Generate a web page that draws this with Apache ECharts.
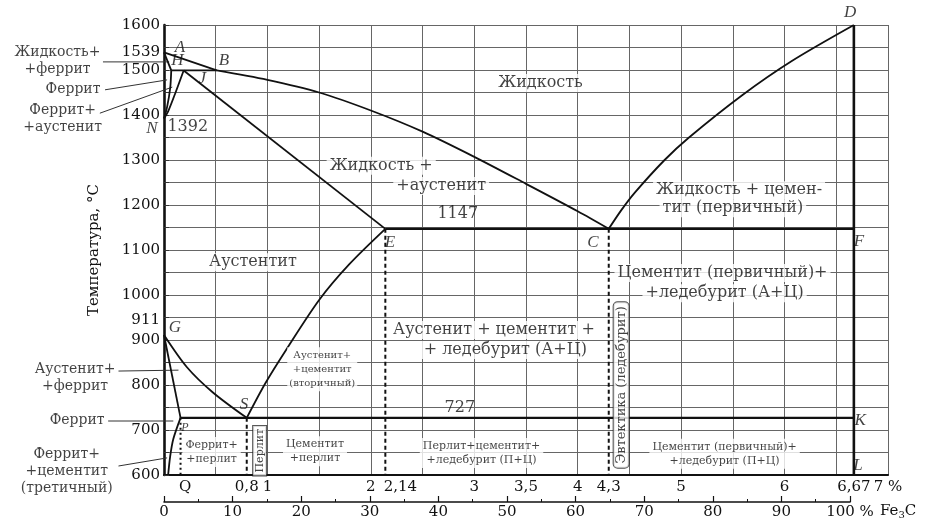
<!DOCTYPE html>
<html><head><meta charset="utf-8">
<script src="https://cdn.jsdelivr.net/npm/echarts@6/dist/echarts.min.js"></script>
<style>html,body{margin:0;padding:0;background:#fff}#c{width:926px;height:521px}</style>
</head><body><div id="c"></div><script>
const SERIF = 'DejaVu Serif';
const ITAL = 'Liberation Serif';
// phase boundaries: [% C, °C]
const lineAB  = [[0,1539],[0.51,1499]];
const lineBC  = [[0.51,1499],[1.0,1478],[1.5,1450],[2.0,1410],[2.5,1363],[3.0,1307],[3.5,1247],[4.0,1186],[4.3,1147]];
const lineCD  = [[4.3,1147],[4.42,1188],[4.55,1227],[4.84,1300],[5.07,1349],[5.59,1444],[6.07,1520],[6.67,1600]];
const lineAH  = [[0,1539],[0.07,1499]];
const lineHN  = [[0.07,1499],[0.06,1460],[0.03,1418],[0,1392]];
const lineJN  = [[0.19,1499],[0.11,1449],[0.04,1408],[0,1392]];
const lineHJB = [[0.07,1499],[0.51,1499]];
const lineJE  = [[0.19,1499],[2.14,1147]];
const lineECF = [[2.14,1147],[6.67,1147]];
const lineES  = [[2.14,1147],[1.79,1068],[1.5,989],[1.18,878],[0.98,804],[0.8,727]];
const lineGS  = [[0,911],[0.22,840],[0.47,784],[0.8,727]];
const lineGP  = [[0,911],[0.16,727]];
const linePQ  = [[0.16,727],[0.09,680],[0.06,642],[0.04,600]];
const linePSK = [[0.16,727],[6.67,727]];
const lineDL  = [[6.67,1600],[6.67,600]];
const dropP = [[0.16,727],[0.16,600]];
const dropS = [[0.8,727],[0.8,600]];
const dropE = [[2.14,1147],[2.14,600]];
const dropC = [[4.3,1147],[4.3,600]];
// tick labels
const yTicks = [600,700,800,900,911,1000,1100,1200,1300,1400,1500,1539,1600];
const yMinorTicks = [600,650,700,750,800,850,900,950,1000,1050,1100,1150,1200,1250,1300,1350,1400,1450,1500,1550,1600];
const xTicks = [0.04,0.8,1,2,2.14,3,3.5,4,4.3,5,6,6.67,7];
const xTickText = ['Q','0,8','1','2','2,14','3','3,5','4','4,3','5','6','6,67','7 %'];
const fe3cTicks = [0,10,20,30,40,50,60,70,80,90,100];
// leader lines from the outer labels
const leaders = [
  [[-0.59,1518],[0.05,1518]],
  [[-0.57,1456],[0.03,1478]],
  [[-0.62,1404],[0.08,1462]],
  [[-0.44,831],[0.14,833]],
  [[-0.54,720],[0.09,720]],
  [[-0.44,620],[0.03,638]]
];
// text annotations: text, x(%C), T(°C), kind
const regionText = [
  ['Жидкость',3.64,1471,'big'],
  ['Жидкость +',2.10,1287,'big'],
  ['+аустенит',2.68,1242,'big'],
  ['Аустентит',0.86,1073,'big'],
  ['Жидкость + цемен-',5.56,1233,'big'],
  ['тит (первичный)',5.50,1193,'big'],
  ['Цементит (первичный)+',5.40,1049,'big'],
  ['+ледебурит (А+Ц)',5.42,1004,'big'],
  ['Аустенит + цементит +',3.19,922,'big'],
  ['+ ледебурит (А+Ц)',3.30,878,'big'],
  ['1147',2.84,1180,'num'],
  ['727',2.86,749,'num'],
  ['1392',0.23,1373,'num'],
  ['Аустенит+\n+цементит\n(вторичный)',1.53,835,'tiny'],
  ['Цементит\n+перлит',1.46,653,'small'],
  ['Феррит+\n+перлит',0.46,651,'small'],
  ['Перлит+цементит+\n+ледебурит (П+Ц)',3.07,649,'small'],
  ['Цементит (первичный)+\n+ледебурит (П+Ц)',5.42,647,'small'],
  ['Перлит',0.925,654,'vbox1'],
  ['Эвтектика (ледебурит)',4.42,800,'vbox2'],
  ['Жидкость+\n+феррит',-1.03,1520,'side'],
  ['Феррит',-0.88,1456,'side'],
  ['Феррит+\n+аустенит',-0.98,1391,'side'],
  ['Аустенит+\n+феррит',-0.86,816,'side'],
  ['Феррит',-0.84,722,'side'],
  ['Феррит+\n+цементит\n(третичный)',-0.94,607,'side']
];
const pointText = [
  ['A',0.155,1549],['H',0.13,1520],['J',0.37,1482],['B',0.58,1522],['N',-0.116,1371],
  ['G',0.106,927],['S',0.773,756],['P',0.203,704],['E',2.185,1116],['C',4.148,1116],
  ['D',6.633,1627],['F',6.72,1118],['K',6.73,722],['L',6.71,620]
];

const INK = '#111';
const styles = {
  big:  {fontFamily:SERIF, fontSize:16, color:INK, backgroundColor:'#fff', padding:[1,3]},
  num:  {fontFamily:SERIF, fontSize:16, color:INK},
  small:{fontFamily:SERIF, fontSize:11, lineHeight:14, color:INK, backgroundColor:'#fff', padding:[1,3]},
  tiny: {fontFamily:SERIF, fontSize:10, lineHeight:14, color:INK, backgroundColor:'#fff', padding:[1,2]},
  vbox1:{fontFamily:SERIF, fontSize:11, color:INK, backgroundColor:'#fff', borderColor:'#222', borderWidth:1, padding:[1,3], rotate:90},
  vbox2:{fontFamily:SERIF, fontSize:13, color:INK, backgroundColor:'#fff', borderColor:'#222', borderWidth:1, borderRadius:4, padding:[1,4], rotate:90},
  side: {fontFamily:SERIF, fontSize:14, lineHeight:17, color:INK}
};

function boundary(data, extra) {
  return Object.assign({type:'line', data, symbol:'none', silent:true, z:5,
    lineStyle:{color:'#111', width:1.8}}, extra || {});
}
const curve = {smooth:0.3};
const dashed = {lineStyle:{color:'#111', width:2, type:[4,3]}};

const series = [
  boundary(lineAB), boundary(lineBC, curve), boundary(lineCD, curve),
  boundary(lineAH), boundary(lineHN, curve), boundary(lineJN, curve),
  boundary(lineHJB), boundary(lineJE), boundary(lineECF, {lineStyle:{color:'#111', width:2.2}}),
  boundary(lineES, curve), boundary(lineGS, curve), boundary(lineGP), boundary(linePQ, curve),
  boundary(linePSK, {lineStyle:{color:'#111', width:2.2}}),
  boundary(lineDL, {lineStyle:{color:'#111', width:2.6}}),
  boundary(dropP, {lineStyle:{color:'#111', width:2, type:[2,3]}}),
  boundary(dropS, dashed), boundary(dropE, dashed), boundary(dropC, dashed)
];
series.push({
  type:'scatter', symbolSize:1, itemStyle:{color:'rgba(0,0,0,0)'}, clip:false, silent:true, z:20,
  data: regionText.map(r => ({value:[r[1], r[2]],
    label:Object.assign({show:true, position:'inside', formatter:r[0], align:'center', verticalAlign:'middle'}, styles[r[3]])}))
});
series.push({
  type:'scatter', symbolSize:1, itemStyle:{color:'rgba(0,0,0,0)'}, clip:false, silent:true, z:21,
  data: pointText.map(p => ({value:[p[1], p[2]],
    label:{show:true, position:'inside', formatter:p[0], fontFamily:ITAL, fontStyle:'italic',
      fontSize: p[0]==='P' ? 12 : 17, color:INK}}))
});

const option = {
  animation:false,
  backgroundColor:'#fff',
  grid:[
    {left:164, right:38, top:25, bottom:46},
    {left:164, right:76, top:500, height:2}
  ],
  xAxis:[
    {type:'value', gridIndex:0, min:0, max:7, interval:0.5,
     axisLine:{show:true, onZero:false, lineStyle:{color:'#111', width:2.2}},
     axisTick:{show:false},
     splitLine:{show:true, lineStyle:{color:'#666', width:1}},
     axisLabel:{customValues:xTicks, margin:5, fontFamily:SERIF, fontSize:15, color:INK,
       formatter:function(v){
         const i = xTicks.findIndex(t => Math.abs(t - v) < 1e-6);
         const s = i >= 0 ? xTickText[i] : '';
         if (s === 'Q') return '{q|Q}';
         if (s === '2,14') return '{r|2,14}';
         return s;
       },
       rich:{
         q:{fontFamily:SERIF, fontSize:15, color:INK, padding:[0,0,0,34]},
         r:{fontFamily:SERIF, fontSize:15, color:INK, padding:[0,0,0,30]}
       }}},
    {type:'value', gridIndex:1, min:0, max:100, interval:10,
     axisLine:{show:true, lineStyle:{color:'#111', width:1.6}},
     axisTick:{show:true, inside:true, length:6, lineStyle:{color:'#111', width:1.2}},
     minorTick:{show:true, splitNumber:2, length:3, lineStyle:{color:'#111', width:1}},
     splitLine:{show:false},
     axisLabel:{customValues:fe3cTicks, margin:3, fontFamily:SERIF, fontSize:15, color:INK,
       formatter:function(v){ return v === 100 ? '100 %' : String(v); }},
     name:'Fe{s|3}C', nameLocation:'end', nameGap:30,
     nameTextStyle:{fontFamily:SERIF, fontSize:15, color:INK, verticalAlign:'top',
       rich:{s:{fontFamily:SERIF, fontSize:10, color:INK, verticalAlign:'bottom', padding:[8,0,0,0]}}}}
  ],
  yAxis:[
    {type:'value', gridIndex:0, min:600, max:1600, interval:50,
     name:'Температура, °С', nameLocation:'middle', nameGap:62, nameRotate:90,
     nameTextStyle:{fontFamily:SERIF, fontSize:15, color:INK},
     axisLine:{show:true, lineStyle:{color:'#111', width:2.6}},
     axisTick:{show:true, inside:true, length:5, customValues:yMinorTicks, lineStyle:{color:'#333'}},
     splitLine:{show:true, lineStyle:{color:'#666', width:1}},
     axisLabel:{customValues:yTicks, margin:4, fontFamily:SERIF, fontSize:15, color:INK,
       formatter:function(v){ return v === 911 ? '{u|911}' : String(v); },
       rich:{u:{fontFamily:SERIF, fontSize:15, color:INK, padding:[0,0,30,0]}}}},
    {type:'value', gridIndex:1, show:false, min:0, max:1}
  ],
  series: series
};
const chart = echarts.init(document.getElementById('c'));
chart.setOption(option);
// leader lines positioned through the chart's own coordinate system
chart.setOption({
  graphic: leaders.map(l => {
    const a = chart.convertToPixel({gridIndex:0}, l[0]);
    const b = chart.convertToPixel({gridIndex:0}, l[1]);
    return {type:'line', silent:true, z:4,
      shape:{x1:a[0], y1:a[1], x2:b[0], y2:b[1]},
      style:{stroke:'#333', lineWidth:1}};
  })
});
</script></body></html>
